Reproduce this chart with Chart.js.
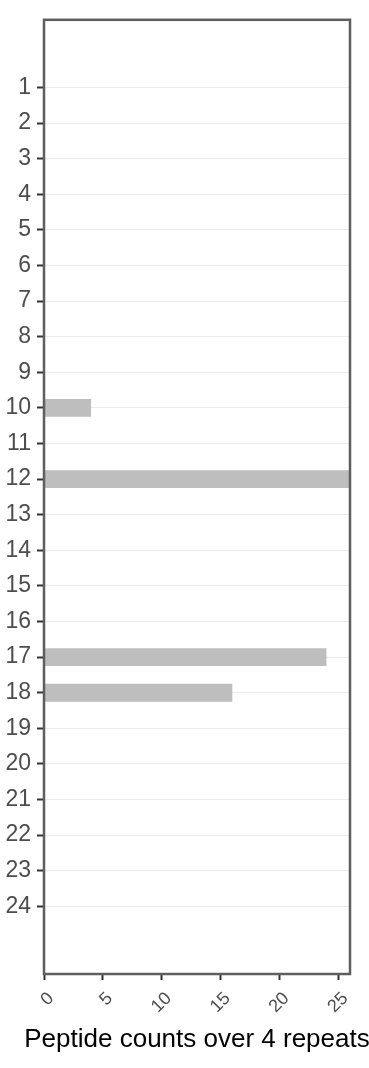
<!DOCTYPE html>
<html>
<head>
<meta charset="utf-8">
<script src="https://cdn.jsdelivr.net/npm/chart.js@4/dist/chart.umd.min.js"></script>
<style>
  html, body { margin: 0; padding: 0; background: #ffffff; }
  #wrap { width: 369px; height: 1068px; }
</style>
</head>
<body>
<div id="wrap"><canvas id="peptide-chart" width="369" height="1068"></canvas></div>
<script>
const categories = [1, 2, 3, 4, 5, 6, 7, 8, 9, 10, 11, 12, 13, 14, 15, 16, 17, 18, 19, 20, 21, 22, 23, 24];
const counts = [0, 0, 0, 0, 0, 0, 0, 0, 0, 4, 0, 26, 0, 0, 0, 0, 24, 16, 0, 0, 0, 0, 0, 0];
const xTickValues = [0, 5, 10, 15, 20, 25];
const xTitle = 'Peptide counts over 4 repeats';

const FONT = "'Liberation Sans', Arial, sans-serif";

// panel border drawn over the bars, like ggplot's panel.border
const panelBorder = {
    id: 'panelBorder',
    afterDatasetsDraw(chart) {
        const { ctx, chartArea: a } = chart;
        ctx.save();
        ctx.strokeStyle = '#5e5e5e';
        ctx.lineWidth = 2.5;
        ctx.strokeRect(a.left, a.top, a.right - a.left, a.bottom - a.top);
        ctx.restore();
    }
};

// x axis title; Chart.js squeezes its own title to the axis width,
// the reference lets it run past the panel edge
const axisTitle = {
    id: 'axisTitle',
    afterDraw(chart) {
        const { ctx, chartArea: a } = chart;
        ctx.save();
        ctx.font = `26px ${FONT}`;
        ctx.fillStyle = '#000000';
        ctx.textAlign = 'center';
        ctx.textBaseline = 'middle';
        ctx.fillText(xTitle, (a.left + a.right) / 2, 1040);
        ctx.restore();
    }
};

const ctx = document.getElementById('peptide-chart').getContext('2d');

new Chart(ctx, {
    type: 'bar',
    data: {
        datasets: [{
            data: categories.map((c, i) => ({ x: counts[i], y: c })),
            backgroundColor: '#bebebe',
            borderWidth: 0,
            categoryPercentage: 0.5,
            barPercentage: 1.0
        }]
    },
    options: {
        indexAxis: 'y',
        responsive: false,
        animation: false,
        layout: { padding: { left: 0, top: 13, right: 19, bottom: 0 } },
        plugins: {
            legend: { display: false },
            tooltip: { enabled: false }
        },
        scales: {
            y: {
                type: 'linear',
                reverse: true,
                offset: false,
                min: -0.9,
                max: 25.9,
                afterBuildTicks: s => { s.ticks = categories.map(v => ({ value: v })); },
                afterFit: s => { s.width = 44; },
                border: { display: false },
                grid: {
                    offset: false,
                    color: '#ebebeb',
                    lineWidth: 1,
                    drawTicks: true,
                    tickLength: 7,
                    tickColor: '#333333',
                    tickWidth: 2
                },
                ticks: {
                    color: '#4d4d4d',
                    padding: 6,
                    font: { size: 23, family: FONT }
                }
            },
            x: {
                type: 'linear',
                min: 0,
                max: 26,
                afterBuildTicks: s => { s.ticks = xTickValues.map(v => ({ value: v })); },
                afterFit: s => { s.height = 94; },
                border: { display: false },
                grid: {
                    drawOnChartArea: false,
                    drawTicks: true,
                    tickLength: 6,
                    tickColor: '#333333',
                    tickWidth: 2
                },
                ticks: {
                    color: '#4d4d4d',
                    minRotation: 45,
                    maxRotation: 45,
                    padding: 8,
                    labelOffset: 7,
                    font: { size: 18, family: FONT }
                }
            }
        }
    },
    plugins: [panelBorder, axisTitle]
});
</script>
</body>
</html>
